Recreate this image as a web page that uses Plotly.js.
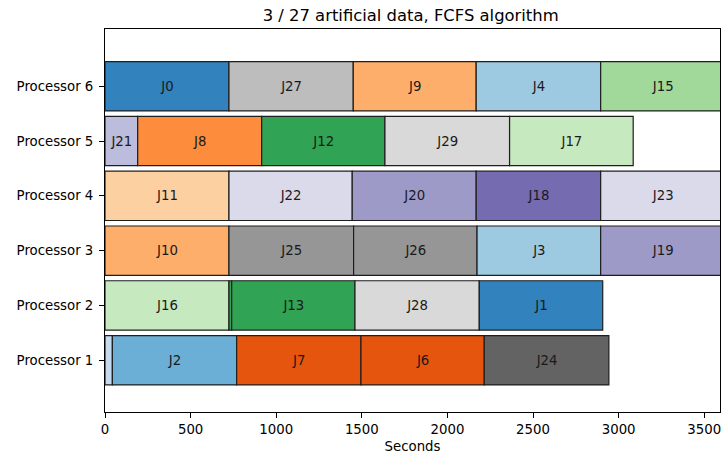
<!DOCTYPE html>
<html>
<head>
<meta charset="utf-8">
<script src="https://cdn.plot.ly/plotly-3.0.1.min.js"></script>
<style>
  html, body { margin: 0; padding: 0; background: #fff; }
  #chart { width: 721px; height: 456px; }
</style>
</head>
<body>
<div id="chart"></div>
<script>
// Processor labels (index 0 -> Processor 1)
const processors = ["Processor 1", "Processor 2", "Processor 3", "Processor 4", "Processor 5", "Processor 6"];

// Schedule produced by the FCFS run: job name, processor number, start and duration (s)
const jobNames = [
  "J0", "J27", "J9", "J4", "J15",
  "J21", "J8", "J12", "J29", "J17",
  "J11", "J22", "J20", "J18", "J23",
  "J10", "J25", "J26", "J3", "J19",
  "J16", "J5", "J13", "J28", "J1",
  "J14", "J2", "J7", "J6", "J24"
];
const jobProc = [
  6, 6, 6, 6, 6,
  5, 5, 5, 5, 5,
  4, 4, 4, 4, 4,
  3, 3, 3, 3, 3,
  2, 2, 2, 2, 2,
  1, 1, 1, 1, 1
];
const jobStart = [
  0, 724, 1450, 2168, 2895,
  0, 191, 915, 1635, 2363,
  0, 724, 1444, 2168, 2895,
  0, 724, 1452, 2173, 2895,
  0, 724, 740, 1460, 2186,
  0, 43, 769, 1495, 2215
];
const jobDuration = [
  724, 726, 718, 727, 725,
  191, 724, 720, 728, 722,
  724, 720, 724, 727, 725,
  724, 728, 721, 722, 725,
  724, 16, 720, 726, 721,
  43, 726, 726, 720, 728
];

// Fill colour of every job bar
const jobColors = [
  "#3182bd", "#bdbdbd", "#fdae6b", "#9ecae1", "#a1d99b",
  "#bcbddc", "#fd8d3c", "#31a354", "#d9d9d9", "#c7e9c0",
  "#fdd0a2", "#dadaeb", "#9e9ac8", "#756bb1", "#dadaeb",
  "#fdae6b", "#969696", "#969696", "#9ecae1", "#9e9ac8",
  "#c7e9c0", "#31a354", "#31a354", "#d9d9d9", "#3182bd",
  "#c6dbef", "#6baed6", "#e6550d", "#e6550d", "#636363"
];

const xMax = 3592;
const FONT = "DejaVu Sans, Verdana, sans-serif";

// Very short jobs are left unlabelled
const barText = jobNames.map((n, i) => (jobDuration[i] > 100 ? n : ""));

const trace = {
  type: "bar",
  orientation: "h",
  y: jobProc,
  x: jobDuration,
  base: jobStart,
  width: 0.9,
  text: barText,
  textposition: "inside",
  insidetextanchor: "middle",
  textangle: 0,
  constraintext: "none",
  cliponaxis: true,
  textfont: { family: FONT, size: 13.3, color: "#1a1a1a" },
  marker: {
    color: jobColors,
    line: { color: "#1e1e1e", width: 1.2 }
  },
  hoverinfo: "skip",
  showlegend: false
};

const layout = {
  width: 721,
  height: 456,
  margin: { l: 105, r: 1, t: 29, b: 44, pad: 0 },
  paper_bgcolor: "#ffffff",
  plot_bgcolor: "#ffffff",
  font: { family: FONT, size: 13.3, color: "#000000" },
  title: {
    text: "3 / 27 artificial data, FCFS algorithm",
    font: { family: FONT, size: 16.4, color: "#000000" },
    x: 0.5696,
    xanchor: "center",
    y: 0.966,
    yanchor: "middle"
  },
  xaxis: {
    range: [0, xMax],
    tickvals: [0, 500, 1000, 1500, 2000, 2500, 3000, 3500],
    ticktext: ["0", "500", "1000", "1500", "2000", "2500", "3000", "3500"],
    ticks: "outside",
    ticklen: 5,
    tickwidth: 1,
    tickcolor: "#000000",
    ticklabeloverflow: "allow",
    showgrid: false,
    zeroline: false,
    showline: true,
    linecolor: "#000000",
    linewidth: 1,
    mirror: true,
    title: { text: "Seconds", font: { family: FONT, size: 13.3, color: "#000000" }, standoff: 5 },
    tickfont: { family: FONT, size: 13.3, color: "#000000" }
  },
  yaxis: {
    range: [0.055, 7.045],
    tickvals: [1, 2, 3, 4, 5, 6],
    ticktext: processors,
    ticks: "outside",
    ticklen: 5,
    tickwidth: 1,
    tickcolor: "#000000",
    ticklabelstandoff: 3,
    showgrid: false,
    zeroline: false,
    showline: true,
    linecolor: "#000000",
    linewidth: 1,
    mirror: true,
    tickfont: { family: FONT, size: 13.3, color: "#000000" }
  },
  barmode: "overlay",
  bargap: 0
};

Plotly.newPlot("chart", [trace], layout, { displayModeBar: false, staticPlot: true });
</script>
</body>
</html>
